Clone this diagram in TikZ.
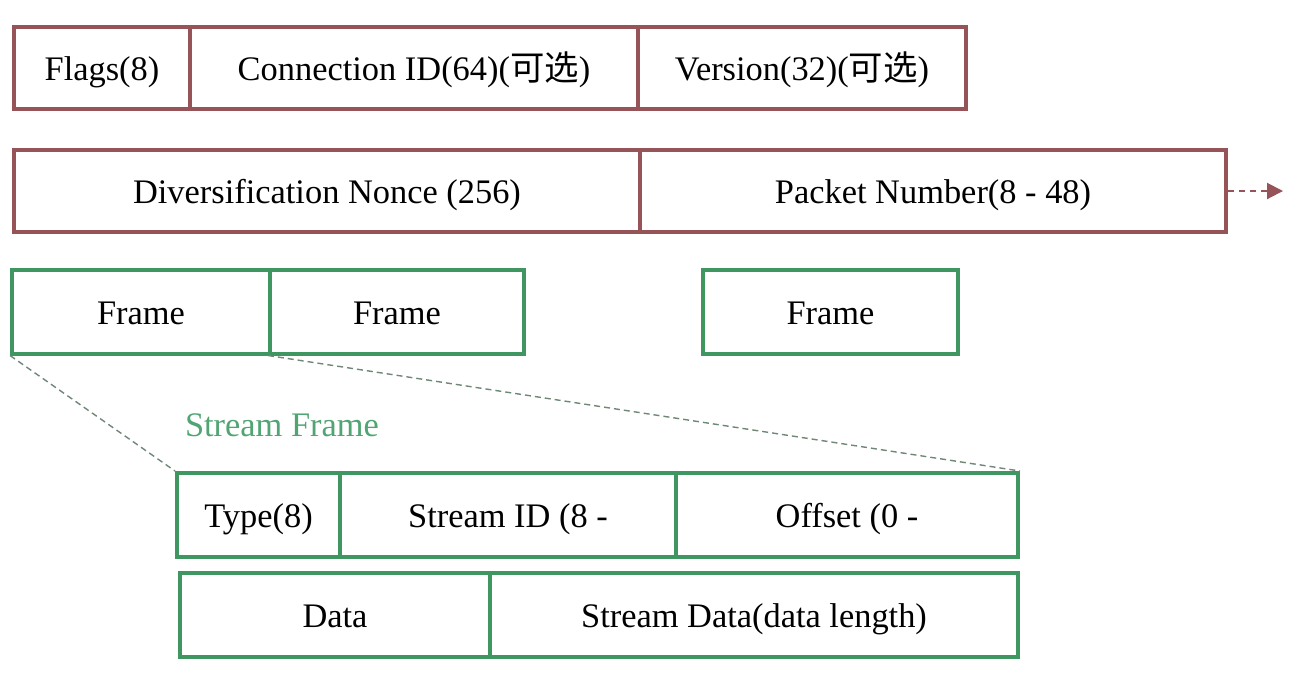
\documentclass[tikz,border=0pt]{standalone}
\usepackage{fontspec}
\setmainfont{Liberation Serif}
\newfontfamily\cjk{Noto Sans CJK SC}
\usetikzlibrary{arrows.meta}
\definecolor{packetred}{RGB}{150,84,88}
\definecolor{framegreen}{RGB}{64,150,96}
\definecolor{labelgreen}{RGB}{80,165,115}
\definecolor{guidegray}{RGB}{110,135,118}
\tikzset{
  field/.style={line width=2pt, inner sep=0pt, text height=14pt, text depth=1.5pt,
                font=\fontsize{17.2pt}{20pt}\selectfont},
  redbox/.style={field, draw=packetred, minimum height=41pt},
  greenbox/.style={field, draw=framegreen, minimum height=42pt},
  zoomline/.style={guidegray, line width=0.7pt, dash pattern=on 3pt off 2pt}
}
\begin{document}
\begin{tikzpicture}[x=0.5pt, y=-0.5pt]
      \useasboundingbox (0,0) rectangle (1304,698);

      % PUBLIC HEADER
      % first row
      \node[redbox, minimum width=88pt]  (flags)   at (102,67.5) {Flags(8)};
      \node[redbox, minimum width=224pt] (connid)  at (414,67.5) {Connection ID(64)({\cjk 可选})};
      \node[redbox, minimum width=164pt] (version) at (802,67.5) {Version(32)({\cjk 可选})};

      % second row
      \node[redbox, minimum width=313pt] (nonce)  at (327,191) {Diversification Nonce (256)};
      \node[redbox, minimum width=293pt] (packet) at (933,191) {Packet Number(8 - 48)};

      % ARROW
      \coordinate (more) at (1283,191);
      \draw[packetred, line width=1pt, dash pattern=on 3pt off 2.5pt,
            -{Triangle[length=8pt, width=8pt]}] (packet.east) -- (more);

      % FRAMES
      \node[greenbox, minimum width=129pt]   (frame1) at (141,311.5) {Frame};
      \node[greenbox, minimum width=127pt]   (frame2) at (397,311.5) {Frame};
      \node[greenbox, minimum width=127.5pt] (frame3) at (830.5,311.5) {Frame};

      % STREAM FRAME
      \node[field, labelgreen] (streamlabel) at (282,424) {Stream Frame};

      % first row
      \node[greenbox, minimum width=81.5pt] (type)     at (258.5,515) {Type(8)};
      \node[greenbox, minimum width=168pt]  (streamid) at (508,515)   {Stream ID (8 -};
      \node[greenbox, minimum width=171pt]  (offset)   at (847,515)   {Offset (0 -};

      % second row
      \node[greenbox, minimum width=155pt] (data)       at (335,615) {Data};
      \node[greenbox, minimum width=264pt] (streamdata) at (754,615) {Stream Data(data length)};

      % ZOOM LINES
      \draw[zoomline] (frame1.south west) -- (type.north west);
      \draw[zoomline] (frame2.south west) -- (offset.north east);
\end{tikzpicture}
\end{document}
